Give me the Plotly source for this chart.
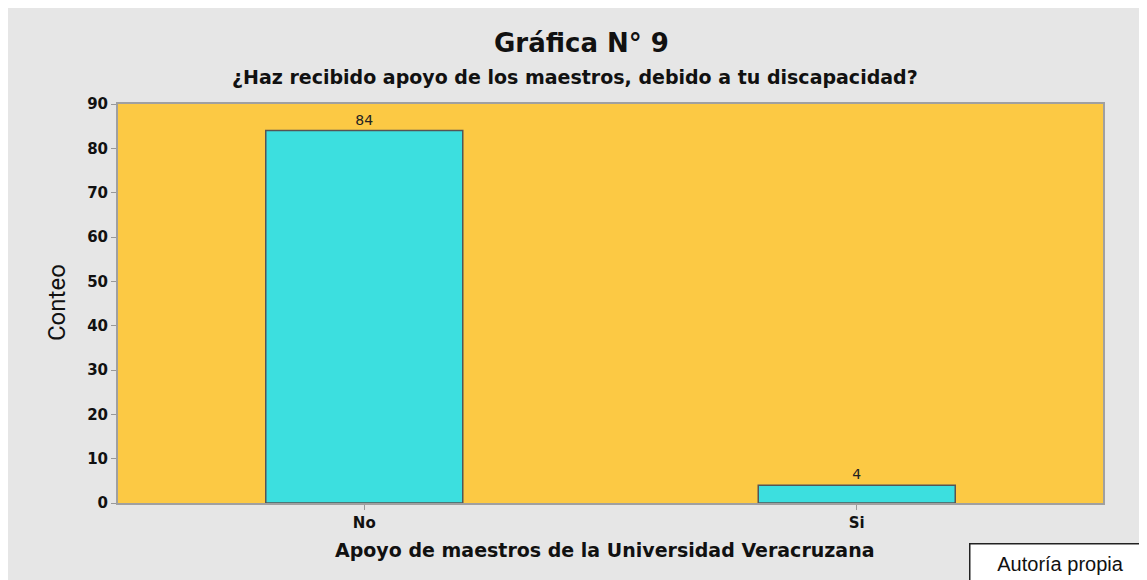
import plotly.graph_objects as go

# datos
categorias = ["No", "Si"]
conteos = [84, 4]
ticks_y = [0, 10, 20, 30, 40, 50, 60, 70, 80, 90]

# la pagina deja 8 px de margen arriba y a la izquierda
OFF = 8
W, H = 1147 - OFF, 580 - OFF
L, R, T, B = 118 - OFF, 44, 104 - OFF, 77
pw, ph = W - L - R, H - T - B


def px_x(p):
    # pixel de la referencia -> coordenada paper
    return (p - OFF - L) / pw


def px_y(p):
    return (H - B - (p - OFF)) / ph


negrita = "DejaVu Sans"

fig = go.Figure()
fig.add_trace(go.Bar(
    x=categorias,
    y=conteos,
    width=0.4,
    marker=dict(color="#3CDFDF", line=dict(color="#555555", width=1.5)),
    text=[str(v) for v in conteos],
    textposition="outside",
    textfont=dict(family="DejaVu Sans", size=14, color="#222222"),
    cliponaxis=False,
))

fig.update_layout(
    width=W, height=H,
    margin=dict(l=L, r=R, t=T, b=B, autoexpand=False),
    paper_bgcolor="white",
    plot_bgcolor="#FCC944",
    showlegend=False,
    xaxis=dict(
        range=[-0.5, 1.5],
        showgrid=False,
        ticks="outside", ticklen=5, tickcolor="#999999",
        tickfont=dict(family=negrita, size=15, color="#111111", weight="bold"),
        showline=True, linecolor="#A0A0A0", linewidth=2, mirror=True,
    ),
    yaxis=dict(
        range=[0, 90],
        tickvals=ticks_y,
        showgrid=False, zeroline=False,
        ticks="outside", ticklen=5, tickcolor="#999999",
        tickfont=dict(family=negrita, size=15, color="#111111", weight="bold"),
        showline=True, linecolor="#A0A0A0", linewidth=2, mirror=True,
    ),
    shapes=[
        dict(type="rect", xref="paper", yref="paper", layer="below",
             x0=px_x(7), x1=px_x(1160), y0=px_y(7), y1=px_y(600),
             fillcolor="#E6E6E6", line=dict(color="#D2D2D2", width=2)),
        dict(type="rect", xref="paper", yref="paper", layer="below",
             x0=0, x1=1, y0=0, y1=1,
             fillcolor="#FCC944", line=dict(width=0)),
    ],
    annotations=[
        dict(text="Gráfica N° 9", xref="paper", yref="paper",
             x=px_x(581), y=px_y(43), showarrow=False,
             xanchor="center", yanchor="middle",
             font=dict(family=negrita, size=26, color="#111111", weight="bold")),
        dict(text="¿Haz recibido apoyo de los maestros, debido a tu discapacidad?",
             xref="paper", yref="paper", x=px_x(575), y=px_y(77),
             showarrow=False, xanchor="center", yanchor="middle",
             font=dict(family=negrita, size=19, color="#111111", weight="bold")),
        dict(text="Conteo", xref="paper", yref="paper", textangle=-90,
             x=px_x(57), y=px_y(303), showarrow=False,
             xanchor="center", yanchor="middle",
             font=dict(family="Roboto", size=24, color="#111111")),
        dict(text="Apoyo de maestros de la Universidad Veracruzana",
             xref="paper", yref="paper", x=px_x(605), y=px_y(550),
             showarrow=False, xanchor="center", yanchor="middle",
             font=dict(family=negrita, size=19, color="#111111", weight="bold")),
        dict(text="Autoría propia", xref="paper", yref="paper",
             x=px_x(1060), y=px_y(563), showarrow=False,
             xanchor="center", yanchor="middle",
             width=176, height=34,
             bgcolor="white", bordercolor="#222222", borderwidth=1.5, borderpad=2,
             font=dict(family="Liberation Sans, Arial", size=20, color="#111111")),
    ],
)

fig.write_html("out.html")
